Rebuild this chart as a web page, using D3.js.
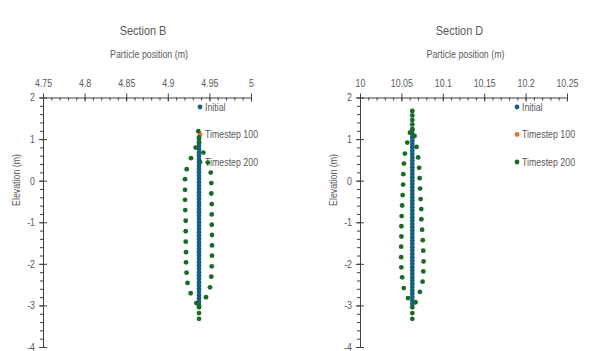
<!DOCTYPE html>
<html>
<head>
<meta charset="utf-8">
<script src="https://cdn.jsdelivr.net/npm/d3@7"></script>
<style>
  html, body { margin: 0; padding: 0; background: #fff; }
  svg { display: block; font-family: "Liberation Sans", Arial, sans-serif; }
</style>
</head>
<body>
<svg id="chart" width="593" height="351"></svg>
<script>
// ---- Section B ----
const xTicksB = [4.75, 4.8, 4.85, 4.9, 4.95, 5];
const initialXB = 4.9375;
const initialElevB = [1.00,0.92,0.84,0.76,0.68,0.60,0.52,0.44,0.36,0.28,0.20,0.12,0.04,-0.04,-0.12,-0.20,-0.28,-0.36,-0.44,-0.52,-0.60,-0.68,-0.76,-0.84,-0.92,-1.00,-1.08,-1.16,-1.24,-1.32,-1.40,-1.48,-1.56,-1.64,-1.72,-1.80,-1.88,-1.96,-2.04,-2.12,-2.20,-2.28,-2.36,-2.44,-2.52,-2.60,-2.68,-2.76,-2.84,-2.92,-3.00];
const t100XB = [];
const t100ElevB = [];
const t200XB = [4.9367,4.9375,4.9375,
  4.9335,4.9279,4.9227,4.9207,4.9207,4.9207,4.9210,4.9215,4.9215,4.9215,4.9219,4.9219,4.9225,4.9237,4.9275,4.9343,
  4.9375,4.9375,4.9375,
  4.9427,4.9480,4.9516,4.9523,4.9523,4.9528,4.9528,4.9528,4.9531,4.9531,4.9531,4.9528,4.9523,4.9507,4.9459];
const t200ElevB = [1.19,1.04,0.92,
  0.795,0.541,0.277,0.037,-0.220,-0.460,-0.707,-0.964,-1.216,-1.468,-1.720,-1.964,-2.212,-2.459,-2.708,-2.944,
  -3.044,-3.184,-3.323,
  0.675,0.435,0.195,-0.059,-0.309,-0.563,-0.813,-1.060,-1.307,-1.557,-1.804,-2.060,-2.308,-2.565,-2.804];

// ---- Section D ----
const xTicksD = [10, 10.05, 10.1, 10.15, 10.2, 10.25];
const initialXD = 10.0632;
const initialElevD = [1.20,1.12,1.04,0.96,0.88,0.80,0.72,0.64,0.56,0.48,0.40,0.32,0.24,0.16,0.08,0.00,-0.08,-0.16,-0.24,-0.32,-0.40,-0.48,-0.56,-0.64,-0.72,-0.80,-0.88,-0.96,-1.04,-1.12,-1.20,-1.28,-1.36,-1.44,-1.52,-1.60,-1.68,-1.76,-1.84,-1.92,-2.00,-2.08,-2.16,-2.24,-2.32,-2.40,-2.48,-2.56,-2.64,-2.72,-2.80,-2.88,-2.96];
const t100XD = [];
const t100ElevD = [];
const t200XD = [10.0632,10.0632,10.0632,10.0632,10.0632,
  10.0603,10.0571,10.0542,10.0530,10.0523,10.0521,10.0515,10.0509,10.0503,10.0500,10.0500,10.0497,10.0497,10.0499,10.0509,10.0529,10.0579,
  10.0632,10.0632,10.0632,
  10.0659,10.0683,10.0702,10.0714,10.0720,10.0726,10.0732,10.0740,10.0741,10.0750,10.0758,10.0764,10.0768,10.0765,10.0756,10.0723,10.0671];
const t200ElevD = [1.676,1.568,1.460,1.352,1.244,
  1.155,0.915,0.651,0.411,0.157,-0.093,-0.347,-0.597,-0.851,-1.096,-1.343,-1.588,-1.840,-2.085,-2.325,-2.584,-2.824,
  -3.044,-3.184,-3.323,
  1.076,0.812,0.560,0.308,0.061,-0.191,-0.443,-0.683,-0.928,-1.180,-1.432,-1.684,-1.941,-2.183,-2.428,-2.675,-2.924];

// ---- shared ----
const yTicks = [2, 1, 0, -1, -2, -3, -4];
const seriesNames = ["Initial", "Timestep 100", "Timestep 200"];
const seriesColors = ["#156082", "#E97132", "#196B24"];

const svg = d3.select("#chart");
const TEXT = "#595959";
const AXIS = "#404040";
const R = 2.4;
const SQUEEZE = 0.84;   // horizontal squeeze for a narrow-looking face

// Turn each text's x/y into a translate and squeeze it horizontally about its anchor.
function narrow(sel) {
  sel.each(function () {
    const t = d3.select(this);
    const x = +t.attr("x") || 0, y = +t.attr("y") || 0;
    t.attr("x", 0).attr("y", 0).attr("transform", `translate(${x},${y}) scale(${SQUEEZE},1)`);
  });
}

function panel(opts) {
  const { left, width, top, height, xTicks, title, series } = opts;
  const x = d3.scaleLinear().domain([xTicks[0], xTicks[xTicks.length - 1]]).range([left, left + width]);
  const y = d3.scaleLinear().domain([2, -4]).range([top, top + height]);
  const g = svg.append("g");

  // titles
  g.append("text").attr("x", left + width / 2 - 4).attr("y", 34.5)
    .attr("text-anchor", "middle").attr("fill", TEXT).attr("font-size", 13).text(title).call(narrow);
  g.append("text").attr("x", left + width / 2 + 2).attr("y", 58)
    .attr("text-anchor", "middle").attr("fill", TEXT).attr("font-size", 10.5).text("Particle position (m)").call(narrow);
  g.append("text").attr("transform", `translate(${left - 27},180) rotate(-90) scale(${SQUEEZE},1)`)
    .attr("text-anchor", "middle").attr("dominant-baseline", "central")
    .attr("fill", TEXT).attr("font-size", 10.5).text("Elevation (m)");

  // minor ticks
  const step = (xTicks[1] - xTicks[0]) / 5;
  const xMinor = d3.range(0, (xTicks.length - 1) * 5 + 1).map(i => xTicks[0] + i * step);
  g.append("g").attr("transform", `translate(0,${top})`)
    .call(d3.axisTop(x).tickValues(xMinor).tickSize(-3).tickFormat(""))
    .call(a => a.select(".domain").remove())
    .call(a => a.selectAll("line").attr("stroke", AXIS));
  const yMinor = d3.range(0, 31).map(i => 2 - i * 0.2);
  g.append("g").attr("transform", `translate(${left},0)`)
    .call(d3.axisLeft(y).tickValues(yMinor).tickSize(3).tickFormat(""))
    .call(a => a.select(".domain").remove())
    .call(a => a.selectAll("line").attr("stroke", AXIS));

  // major axes with crossing ticks
  g.append("g").attr("transform", `translate(0,${top})`)
    .call(d3.axisTop(x).tickValues(xTicks).tickSize(4).tickSizeOuter(0).tickPadding(7).tickFormat(d => String(d)))
    .call(a => a.select(".domain").attr("stroke", AXIS))
    .call(a => a.selectAll(".tick line").attr("stroke", AXIS).attr("y2", -4).attr("y1", 4))
    .call(a => a.selectAll("text").attr("fill", TEXT).attr("font-size", 10.5).attr("font-family", null).call(narrow));
  g.append("g").attr("transform", `translate(${left},0)`)
    .call(d3.axisLeft(y).tickValues(yTicks).tickSize(4).tickSizeOuter(0).tickPadding(4).tickFormat(d => String(d)))
    .call(a => a.select(".domain").attr("stroke", AXIS))
    .call(a => a.selectAll(".tick line").attr("stroke", AXIS).attr("x2", -4).attr("x1", 4))
    .call(a => a.selectAll("text").attr("fill", TEXT).attr("font-size", 10.5).attr("font-family", null).call(narrow));

  // legend (sits under the points)
  const legY = [107, 134.5, 162];
  seriesNames.forEach((name, i) => {
    g.append("circle").attr("cx", left + 157).attr("cy", legY[i]).attr("r", R).attr("fill", seriesColors[i]);
    g.append("text").attr("x", left + 162).attr("y", legY[i]).attr("dominant-baseline", "central")
      .attr("fill", TEXT).attr("font-size", 10.5).text(name).call(narrow);
  });

  // points
  series.forEach((s, i) => {
    const pts = s.xs.map((v, k) => [v, s.ys[k]]);
    g.append("g").selectAll("circle").data(pts).join("circle")
      .attr("cx", d => x(d[0])).attr("cy", d => y(d[1])).attr("r", R)
      .attr("fill", seriesColors[i]);
  });
}

panel({
  left: 43, width: 208, top: 97.5, height: 249.5, xTicks: xTicksB, title: "Section B",
  series: [
    { xs: initialElevB.map(() => initialXB), ys: initialElevB },
    { xs: t100XB, ys: t100ElevB },
    { xs: t200XB, ys: t200ElevB }
  ]
});
panel({
  left: 360, width: 207, top: 97.5, height: 249.5, xTicks: xTicksD, title: "Section D",
  series: [
    { xs: initialElevD.map(() => initialXD), ys: initialElevD },
    { xs: t100XD, ys: t100ElevD },
    { xs: t200XD, ys: t200ElevD }
  ]
});
</script>
</body>
</html>
